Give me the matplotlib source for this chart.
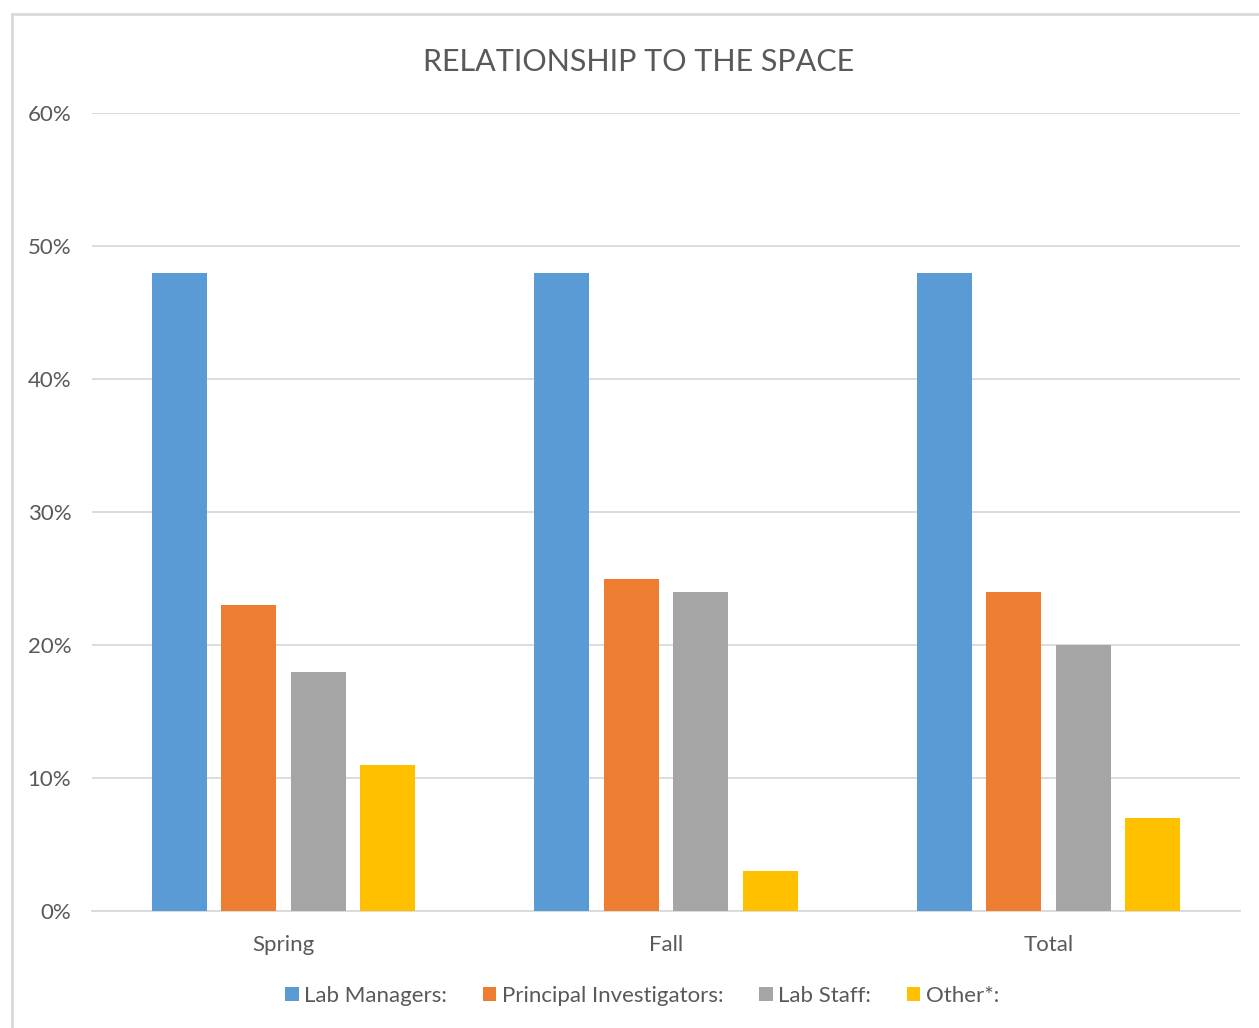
import numpy as np
import matplotlib.pyplot as plt
from matplotlib.lines import Line2D

plt.rcParams['font.family'] = ['Lato', 'DejaVu Sans']

categories = ["Spring", "Fall", "Total"]
series_names = ["Lab Managers:", "Principal Investigators:", "Lab Staff:", "Other*:"]
lab_managers = [48, 48, 48]
principal_investigators = [23, 25, 24]
lab_staff = [18, 24, 20]
other = [11, 3, 7]
colors = ["#5B9BD5", "#ED7D31", "#A5A5A5", "#FFC000"]
yticks = [0, 10, 20, 30, 40, 50, 60]

W, H = 1259, 1028
fig = plt.figure(figsize=(W / 100, H / 100), dpi=100)
ax = fig.add_axes([92 / W, 1 - 911 / H, (1240 - 92) / W, (911 - 113) / H])

# chart border (left and top visible)
fig.add_artist(Line2D([11.5 / W, 11.5 / W], [1 - 14 / H, 0], transform=fig.transFigure,
                      color="#D9D9D9", lw=2))
fig.add_artist(Line2D([11.5 / W, 1], [1 - 14 / H, 1 - 14 / H], transform=fig.transFigure,
                      color="#D9D9D9", lw=2))

x = np.arange(len(categories))
step = 69.5 / 383
width = 55 / 383
data = [lab_managers, principal_investigators, lab_staff, other]
for i, (vals, name, c) in enumerate(zip(data, series_names, colors)):
    ax.bar(x + (i - 1.5) * step, vals, width, color=c, label=name, zorder=3)

ax.set_xlim(-0.5, 2.5)
ax.set_ylim(0, 60)
ax.set_yticks(yticks)
ax.set_yticklabels([f"{t}%" for t in yticks])
ax.set_xticks(x)
ax.set_xticklabels(categories)
ax.grid(axis="y", color="#D9D9D9", lw=1.3, zorder=0)
for s in ["top", "right", "left"]:
    ax.spines[s].set_visible(False)
ax.spines["bottom"].set_color("#D9D9D9")
ax.spines["bottom"].set_linewidth(1.3)
ax.tick_params(length=0, labelcolor="#595959", labelsize=16)
ax.tick_params(axis="y", pad=15)
ax.tick_params(axis="x", pad=17)

fig.text(639 / W, 1 - 62 / H, "RELATIONSHIP TO THE SPACE", ha="center", va="center",
         fontsize=22, color="#595959")

leg = fig.legend(loc="center", bbox_to_anchor=(642 / W, 1 - 996 / H), ncol=4, frameon=False,
                 fontsize=16, handlelength=0.62, handleheight=0.62, handletextpad=0.25,
                 columnspacing=1.6, labelcolor="#595959")

fig.savefig("out.png", dpi=100)
